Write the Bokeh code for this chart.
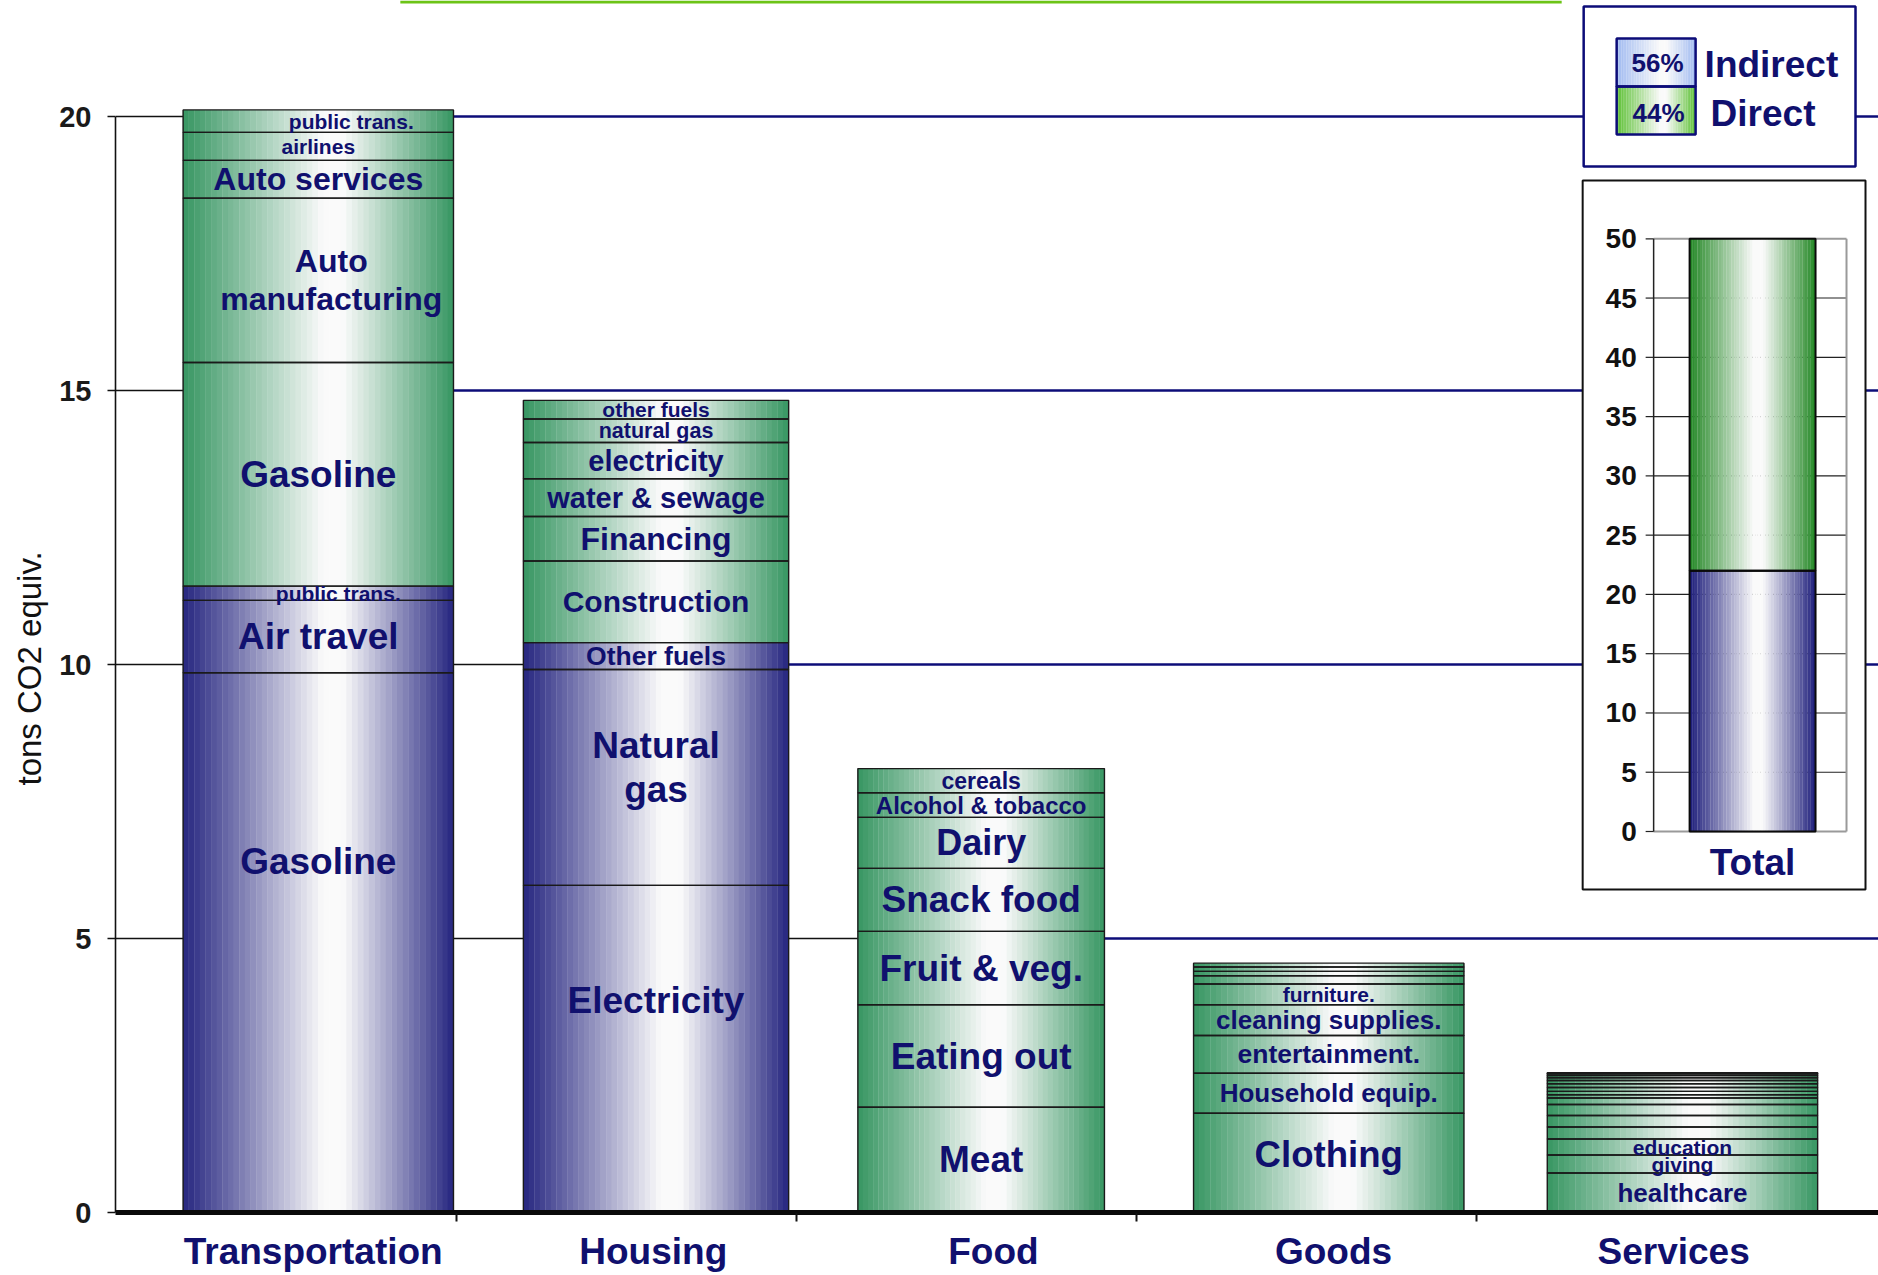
import numpy as np
from bokeh.plotting import figure
from bokeh.models import Range1d, ColumnDataSource, FixedTicker, Title
from bokeh.core.properties import value
from bokeh.embed import file_html
from bokeh.resources import INLINE

# ---------------- data ----------------
categories = ["Transportation", "Housing", "Food", "Goods", "Services"]

transport_labels = ["Gasoline", "Air travel", "public trans.", "Gasoline",
                    "Auto\nmanufacturing", "Auto services", "airlines", "public trans."]
transport_values = [9.85, 1.32, 0.26, 4.08, 3.00, 0.69, 0.51, 0.41]

housing_labels = ["Electricity", "Natural\ngas", "Other fuels", "Construction", "Financing",
                  "water & sewage", "electricity", "natural gas", "other fuels"]
housing_values = [5.97, 3.94, 0.49, 1.49, 0.81, 0.69, 0.66, 0.43, 0.34]

food_labels = ["Meat", "Eating out", "Fruit & veg.", "Snack food", "Dairy",
               "Alcohol & tobacco", "cereals"]
food_values = [1.92, 1.87, 1.34, 1.15, 0.93, 0.45, 0.44]

goods_labels = ["Clothing", "Household equip.", "entertainment.", "cleaning supplies.",
                "furniture.", "", "", "", ""]
goods_values = [1.81, 0.73, 0.69, 0.56, 0.38, 0.15, 0.08, 0.08, 0.07]

services_labels = ["healthcare", "giving", "education"] + [""] * 14
services_values = [0.72, 0.33, 0.29, 0.22, 0.21, 0.20, 0.12, 0.06, 0.06,
                   0.07, 0.07, 0.06, 0.05, 0.04, 0.03, 0.01, 0.01]

# number of "direct" (blue) slices at the bottom of each stack
direct_counts = [3, 3, 0, 0, 0]

main_ticks = [0, 5, 10, 15, 20]
y_label = "tons CO2 equiv."

total_categories = ["Total"]
total_direct = 22
total_indirect = 28
total_ticks = [0, 5, 10, 15, 20, 25, 30, 35, 40, 45, 50]

legend_names = ["Indirect", "Direct"]
legend_shares = [56, 44]

all_labels = [transport_labels, housing_labels, food_labels, goods_labels, services_labels]
all_values = [transport_values, housing_values, food_values, goods_values, services_values]

# ---------------- styles / layout ----------------
W, H = 1878, 1275
FRAME_L, FRAME_B = 114, 1212
PX_PER_Y = 54.8
X0_PX, PX_PER_X = 311.8, 340.3

bar_widths = [0.795, 0.78, 0.725, 0.795, 0.795]
bar_nudge = [0.015, 0.008, -0.036, -0.014, 0.026]

label_sizes = [
    [37, 37, 21, 37, 32, 32, 21, 21],
    [37, 37, 26.5, 30, 32, 29, 29, 21.5, 21],
    [37, 37, 37, 37, 36, 24, 23],
    [36.6, 26, 26.5, 26, 21, 21, 21, 21, 21],
    [26, 21, 21] + [21] * 14,
]
label_dx = {(0, 2): 20, (0, 4): 13, (0, 7): 33}
label_dy = {(0, 0): -81, (1, 0): -48, (1, 1): -10, (3, 0): -8}

NAVY_TXT = "#10106e"
NAVY_LINE = "#0c0c78"
FONT = "Liberation Sans"

blue_edge = (38, 38, 128)
green_edge = (55, 150, 98)
ins_blue_edge = (28, 28, 122)
ins_green_edge = (34, 135, 36)
leg_blue_edge = (160, 186, 240)
leg_green_edge = (92, 192, 52)
N_STRIPS = 48


def mix(edge, w):
    return "#%02x%02x%02x" % tuple(int(round(e + (250 - e) * w)) for e in edge)


def profile(t, peak=0.56):
    w = t / peak if t < peak else (1 - t) / (1 - peak)
    return min(1.0, w * 1.08)


x_range = Range1d((FRAME_L - X0_PX) / PX_PER_X, (W - X0_PX) / PX_PER_X)
y_range = Range1d(0, FRAME_B / PX_PER_Y)

p = figure(width=W, height=H, x_range=x_range, y_range=y_range,
           output_backend="svg", toolbar_location=None,
           min_border_left=FRAME_L, min_border_right=0, min_border_top=0,
           min_border_bottom=H - FRAME_B)
p.outline_line_color = None
p.xgrid.visible = False
p.ygrid.visible = False
p.background_fill_color = "white"
p.border_fill_color = "white"

# inset ranges and a canvas-pixel range for decorations
INS_C_PX, INS_UNIT_PX = 1752, 210
INS_0_PX, INS_PER = 831, 11.854
p.extra_x_ranges = {
    "ins": Range1d((FRAME_L - INS_C_PX) / INS_UNIT_PX, (W - INS_C_PX) / INS_UNIT_PX),
    "px": Range1d(FRAME_L, W),
}
p.extra_y_ranges = {
    "ins": Range1d((INS_0_PX - FRAME_B) / INS_PER, INS_0_PX / INS_PER),
    "px": Range1d(FRAME_B, 0),
}

# ---------------- stacks geometry ----------------
centers = [i + bar_nudge[i] for i in range(len(categories))]
totals = [float(np.sum(v)) for v in all_values]

# gridlines: black in gaps left of last taller bar, navy to the right of it
bx0, bx1, by = [], [], []
nx0, nx1, ny = [], [], []
for lvl in main_ticks[1:]:
    j = max(i for i in range(len(categories)) if totals[i] >= lvl)
    bx0.append(x_range.start); bx1.append(centers[0] - bar_widths[0] / 2); by.append(lvl)
    for i in range(j):
        bx0.append(centers[i] + bar_widths[i] / 2)
        bx1.append(centers[i + 1] - bar_widths[i + 1] / 2)
        by.append(lvl)
    nx0.append(centers[j] + bar_widths[j] / 2); nx1.append(x_range.end); ny.append(lvl)
p.segment(x0=bx0, x1=bx1, y0=by, y1=by, line_color="#111111", line_width=1.6)
p.segment(x0=nx0, x1=nx1, y0=ny, y1=ny, line_color=NAVY_LINE, line_width=2.6)

# gradient strips
sx, sw, sb, st, sc = [], [], [], [], []
ql, qr, qb, qt = [], [], [], []
tx, ty, tt, tsz, tdx, tdy = [], [], [], [], [], []
for i, vals in enumerate(all_values):
    cum = np.cumsum(vals)
    bottoms = np.concatenate([[0.0], cum[:-1]])
    cx, bw = centers[i], bar_widths[i]
    dtop = cum[direct_counts[i] - 1] if direct_counts[i] > 0 else 0.0
    tot = cum[-1]
    for k in range(N_STRIPS):
        t = (k + 0.5) / N_STRIPS
        xk = cx - bw / 2 + t * bw
        if dtop > 0:
            sx.append(xk); sw.append(bw / N_STRIPS * 1.06); sb.append(0.0); st.append(dtop)
            sc.append(mix(blue_edge, profile(t)))
        if tot > dtop:
            sx.append(xk); sw.append(bw / N_STRIPS * 1.06); sb.append(dtop); st.append(tot)
            sc.append(mix(green_edge, profile(t)))
    for s, (b, tp) in enumerate(zip(bottoms, cum)):
        ql.append(cx - bw / 2); qr.append(cx + bw / 2); qb.append(b); qt.append(tp)
        lab = all_labels[i][s]
        if lab:
            tx.append(cx); ty.append((b + tp) / 2); tt.append(lab)
            tsz.append("%gpx" % label_sizes[i][s])
            tdx.append(label_dx.get((i, s), 0)); tdy.append(label_dy.get((i, s), 0))

p.vbar(x="x", width="w", bottom="b", top="t", fill_color="c", line_color=None,
       source=ColumnDataSource(dict(x=sx, w=sw, b=sb, t=st, c=sc)))
p.quad(left=ql, right=qr, bottom=qb, top=qt, fill_color=None,
       line_color="#1a1a1a", line_width=1.4)
p.text(x="x", y="y", text="t", text_font_size="s", x_offset="dx", y_offset="dy",
       source=ColumnDataSource(dict(x=tx, y=ty, t=tt, s=tsz, dx=tdx, dy=tdy)),
       text_font=value(FONT), text_font_style="bold", text_color=NAVY_TXT,
       text_align="center", text_baseline="middle", text_line_height=1.06)

# ---------------- axes ----------------
p.yaxis.ticker = FixedTicker(ticks=main_ticks)
p.yaxis.bounds = (min(main_ticks), max(main_ticks))
p.yaxis.major_label_text_font = FONT
p.yaxis.major_label_text_font_size = "29px"
p.yaxis.major_label_text_font_style = "bold"
p.yaxis.major_label_text_color = "#1a1a1a"
p.yaxis.major_label_standoff = 16
p.yaxis.major_tick_out = 8
p.yaxis.major_tick_in = 0
p.yaxis.minor_tick_line_color = None
p.yaxis.axis_line_width = 1.6
p.yaxis.axis_line_color = "#111111"
p.yaxis.major_tick_line_color = "#111111"
p.yaxis.major_tick_line_width = 1.6

# y-axis title in the left panel, placed along the 0-20 span of the axis
p.add_layout(Title(text=y_label, align="left", offset=427, standoff=17,
                   text_font=FONT, text_font_size="33px", text_font_style="normal",
                   text_color="#111111"), "left")

p.xaxis.ticker = FixedTicker(ticks=list(range(len(categories))),
                             minor_ticks=[i + 0.42 for i in range(len(categories) - 1)])
p.xaxis.major_label_overrides = {i: c for i, c in enumerate(categories)}
p.xaxis.major_label_text_font = FONT
p.xaxis.major_label_text_font_size = "37px"
p.xaxis.major_label_text_font_style = "bold"
p.xaxis.major_label_text_color = NAVY_TXT
p.xaxis.major_label_standoff = 9
p.xaxis.major_tick_out = 0
p.xaxis.major_tick_in = 0
p.xaxis.major_tick_line_color = None
p.xaxis.minor_tick_out = 9
p.xaxis.minor_tick_in = 0
p.xaxis.minor_tick_line_color = "#111111"
p.xaxis.minor_tick_line_width = 2
p.xaxis.axis_line_width = 5
p.xaxis.axis_line_color = "#0a0a0a"

# ---------------- decorations (canvas px) ----------------
p.segment(x0=[399], x1=[1561], y0=[1.5], y1=[1.5], line_color="#6cc417", line_width=3,
          x_range_name="px", y_range_name="px")
p.quad(left=[1583], right=[1855], top=[6], bottom=[166], fill_color="white",
       line_color=NAVY_LINE, line_width=2.5, x_range_name="px", y_range_name="px")
p.quad(left=[1582], right=[1865], top=[180], bottom=[889], fill_color="white",
       line_color="#111111", line_width=2, x_range_name="px", y_range_name="px")

# legend swatches
lx, lw, lt, lb, lc = [], [], [], [], []
sw_l, sw_r = 1616, 1695
sw_rows = [(38, 86, leg_blue_edge), (86, 134, leg_green_edge)]
for (top_px, bot_px, edge) in sw_rows:
    for k in range(N_STRIPS):
        t = (k + 0.5) / N_STRIPS
        lx.append(sw_l + t * (sw_r - sw_l)); lw.append((sw_r - sw_l) / N_STRIPS * 1.06)
        lt.append(top_px); lb.append(bot_px); lc.append(mix(edge, profile(t, 0.6)))
p.vbar(x="x", width="w", top="t", bottom="b", fill_color="c", line_color=None,
       source=ColumnDataSource(dict(x=lx, w=lw, t=lt, b=lb, c=lc)),
       x_range_name="px", y_range_name="px")
p.quad(left=[sw_l] * 2, right=[sw_r] * 2, top=[r[0] for r in sw_rows],
       bottom=[r[1] for r in sw_rows], fill_color=None, line_color=NAVY_LINE,
       line_width=2.5, x_range_name="px", y_range_name="px")
p.text(x=[1657, 1658], y=[62, 112], text=["%d%%" % v for v in legend_shares],
       text_font=value(FONT), text_font_style="bold", text_font_size="26px",
       text_color=NAVY_TXT, text_align="center", text_baseline="middle",
       x_range_name="px", y_range_name="px")
p.text(x=[1704, 1710], y=[64, 113], text=legend_names,
       text_font=value(FONT), text_font_style="bold", text_font_size="37px",
       text_color=NAVY_TXT, text_align="left", text_baseline="middle",
       x_range_name="px", y_range_name="px")

# ---------------- inset: Total ----------------
ax_x, right_x, lab_x, ins_bw = -0.4714, 0.4476, -0.552, 0.6
tick_len = 8 / INS_UNIT_PX
top_tick = max(total_ticks)
grid_y = total_ticks[1:-1]
p.segment(x0=[ax_x] * len(grid_y), x1=[right_x] * len(grid_y), y0=grid_y, y1=grid_y,
          line_color="#222222", line_width=1.1, x_range_name="ins", y_range_name="ins")
p.segment(x0=[ax_x, right_x, ax_x], x1=[right_x, right_x, right_x],
          y0=[top_tick, 0, 0], y1=[top_tick, top_tick, 0],
          line_color="#9a9a9a", line_width=2, x_range_name="ins", y_range_name="ins")
p.segment(x0=[ax_x - tick_len] * len(total_ticks), x1=[ax_x] * len(total_ticks),
          y0=total_ticks, y1=total_ticks, line_color="#222222", line_width=1.2,
          x_range_name="ins", y_range_name="ins")
p.segment(x0=[ax_x], x1=[ax_x], y0=[0], y1=[top_tick], line_color="#222222",
          line_width=1.5, x_range_name="ins", y_range_name="ins")
p.text(x=[lab_x] * len(total_ticks), y=total_ticks, text=[str(v) for v in total_ticks],
       text_font=value(FONT), text_font_style="bold", text_font_size="28px",
       text_color="#111111", text_align="right", text_baseline="middle",
       x_range_name="ins", y_range_name="ins")

ix, iw, ib, it, ic = [], [], [], [], []
tot_all = total_direct + total_indirect
for k in range(N_STRIPS):
    t = (k + 0.5) / N_STRIPS
    xk = -ins_bw / 2 + t * ins_bw
    ix += [xk, xk]; iw += [ins_bw / N_STRIPS * 1.06] * 2
    ib += [0, total_direct]; it += [total_direct, tot_all]
    ic += [mix(ins_blue_edge, profile(t, 0.55)), mix(ins_green_edge, profile(t, 0.55))]
p.vbar(x="x", width="w", bottom="b", top="t", fill_color="c", line_color=None,
       source=ColumnDataSource(dict(x=ix, w=iw, b=ib, t=it, c=ic)),
       x_range_name="ins", y_range_name="ins")
p.quad(left=[-ins_bw / 2] * 2, right=[ins_bw / 2] * 2, bottom=[0, total_direct],
       top=[total_direct, tot_all], fill_color=None, line_color="#0a0a0a", line_width=2,
       x_range_name="ins", y_range_name="ins")
p.text(x=[0], y=[-2.6], text=total_categories, text_font=value(FONT),
       text_font_style="bold", text_font_size="37px", text_color=NAVY_TXT,
       text_align="center", text_baseline="middle", x_range_name="ins", y_range_name="ins")

open("out.html", "w").write(file_html(p, INLINE))
